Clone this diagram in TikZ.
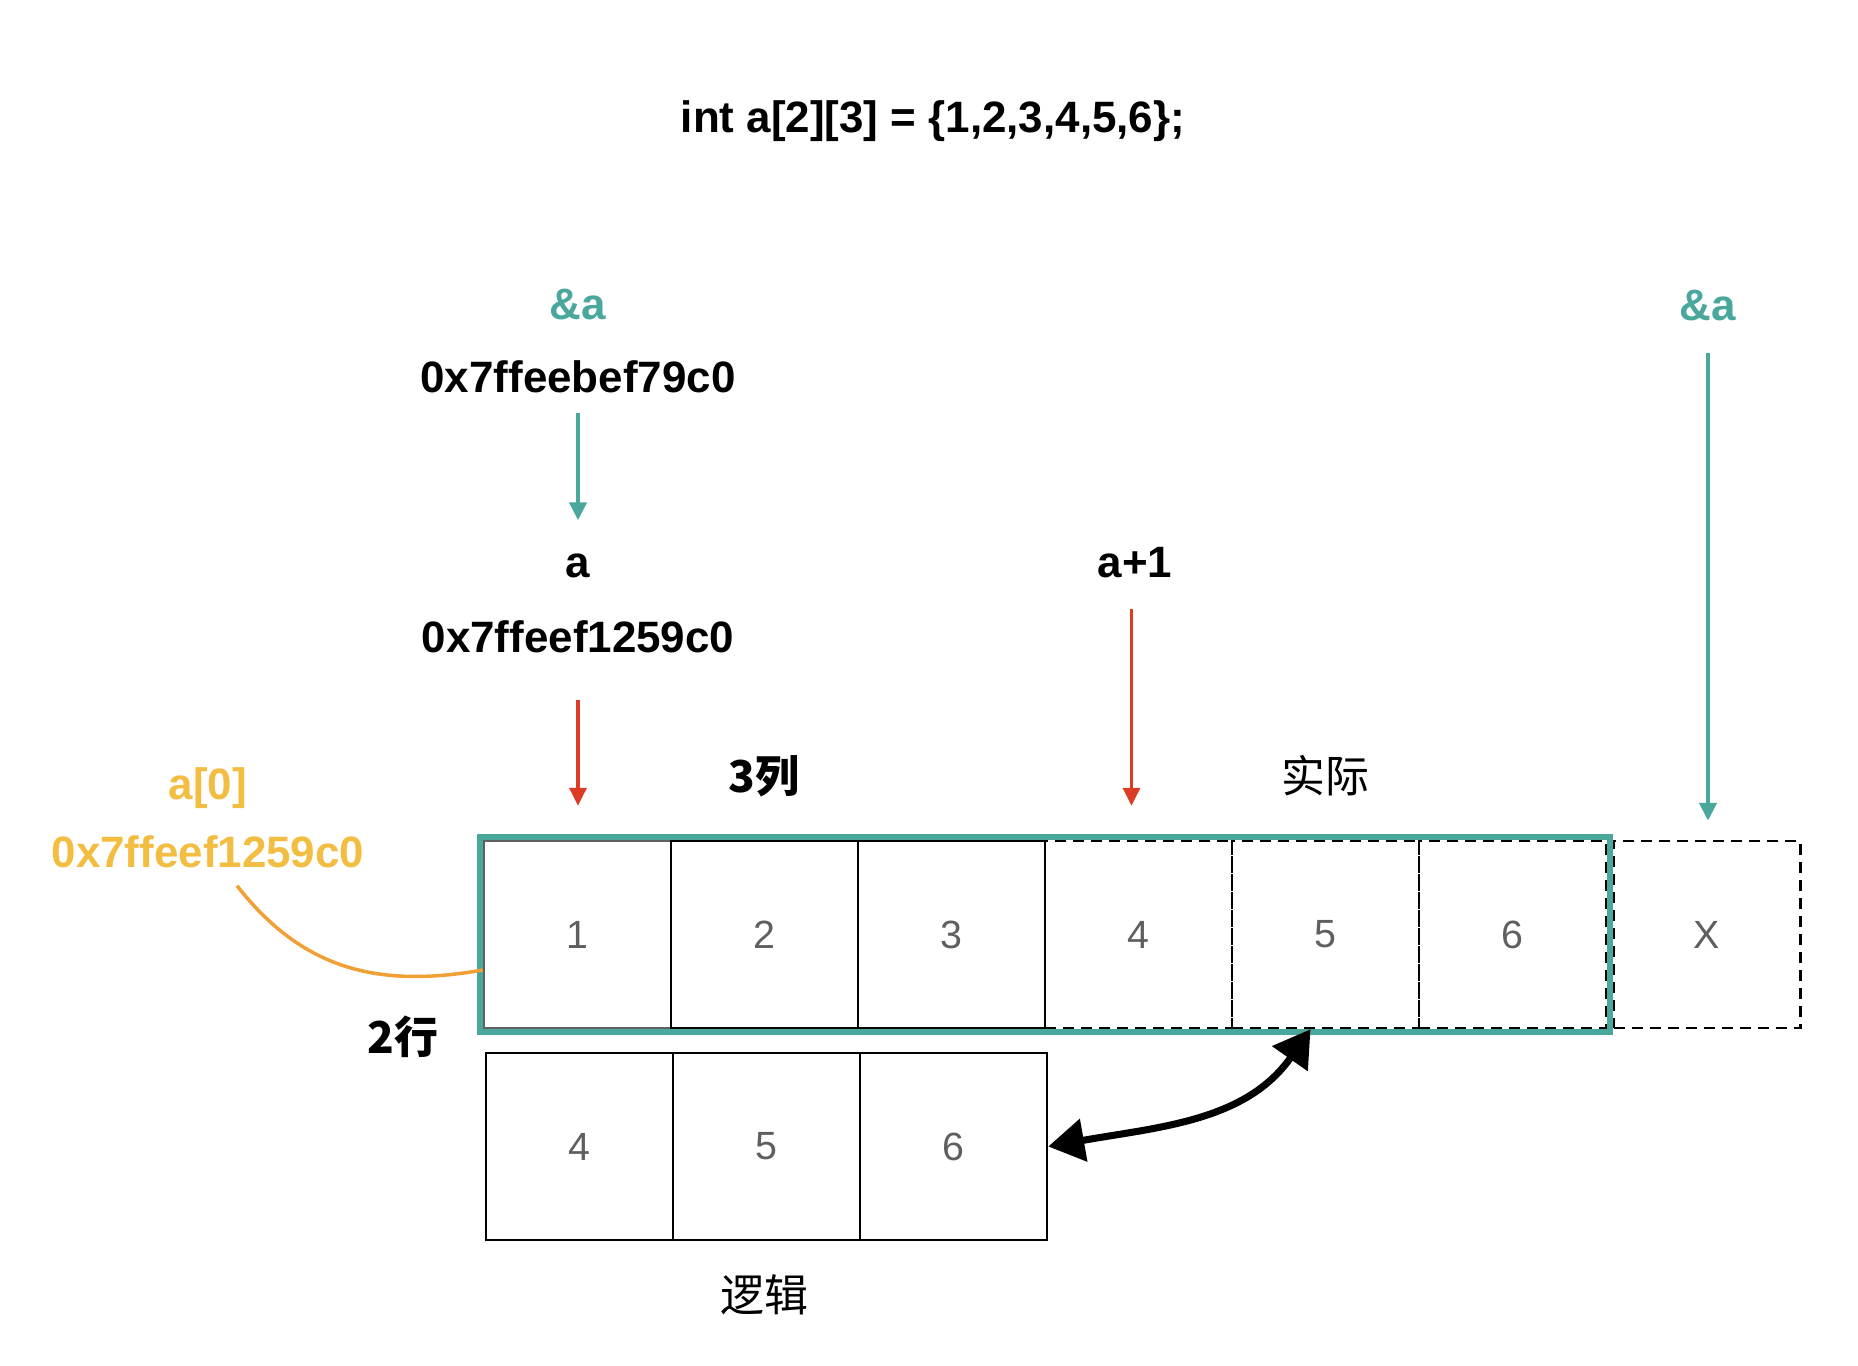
\documentclass[tikz,border=0pt]{standalone}
\usepackage{fontspec}
\setmainfont{Liberation Sans}
\newfontfamily\cjk{Noto Sans CJK SC}
\usetikzlibrary{arrows.meta}
\definecolor{ptrteal}{RGB}{74,167,155}
\definecolor{ptrred}{RGB}{220,59,38}
\definecolor{addryellow}{RGB}{242,189,65}
\definecolor{curveorange}{RGB}{240,160,53}
\definecolor{numgray}{RGB}{95,95,95}
\begin{document}
\begin{tikzpicture}
    \tikzstyle{every node}=[inner sep=0pt]
    \tikzstyle{lbl}=[font=\fontsize{12.5}{15}\selectfont\bfseries,text height=0.31cm,text depth=0cm]
    \tikzstyle{hanzi}=[font=\fontsize{12.5}{15}\selectfont\cjk]
    \tikzstyle{cell}=[draw,line width=0.7pt,minimum size=1.87cm,font=\fontsize{11.2}{13}\selectfont,text=numgray]
    \tikzstyle{ghost}=[cell,dash pattern=on 0.11cm off 0.07cm]
    \tikzstyle{tealptr}=[ptrteal,line width=1.2pt,-{Triangle[length=0.18cm,width=0.17cm]}]
    \tikzstyle{redptr}=[ptrred,line width=1pt,-{Triangle[length=0.18cm,width=0.17cm]}]
    \useasboundingbox (0,0) rectangle (18.58,-13.66);
    % labels
    \draw (9.33,-1.175) node[lbl] (decl) {int a[2][3] = \{1,2,3,4,5,6\};};
    \draw (5.78,-3.045) node[lbl,text=ptrteal] (amp1) {\&a};
    \draw (5.78,-3.77) node[lbl] (addr1) {0x7ffeebef79c0};
    \draw (5.78,-5.625) node[lbl] (a) {a};
    \draw (5.78,-6.375) node[lbl] (addr2) {0x7ffeef1259c0};
    \draw (11.35,-5.625) node[lbl] (aplus) {a+1};
    \draw (17.08,-3.05) node[lbl,text=ptrteal] (amp2) {\&a};
    \draw (2.08,-7.845) node[lbl,text=addryellow] (azero) {a[0]};
    \draw (2.08,-8.525) node[lbl,text=addryellow] (addr3) {0x7ffeef1259c0};
    \draw (7.64,-7.76) node[hanzi,font=\fontsize{12.5}{15}\selectfont\cjk\bfseries] (cols) {3列};
    \draw (13.25,-7.76) node[hanzi] (real) {实际};
    \draw (4.03,-10.37) node[hanzi,font=\fontsize{12.5}{15}\selectfont\cjk\bfseries] (rows) {2行};
    \draw (7.64,-12.95) node[hanzi] (logic) {逻辑};
    % actual memory
    \draw (5.775,-9.345) node[cell,draw=numgray] (c1) {1};
    \draw (7.645,-9.345) node[cell] (c2) {2};
    \draw (9.515,-9.345) node[cell] (c3) {3};
    \draw (11.385,-9.345) node[ghost] (c4) {4};
    \draw (13.255,-9.345) node[ghost] (c5) {5};
    \draw (15.125,-9.345) node[ghost] (c6) {6};
    \draw (17.07,-9.345) node[ghost] (cx) {X};
    \draw[ptrteal,line width=1.7pt] ([shift={(-0.03,0.03)}]c1.north west) rectangle ([shift={(0.03,-0.03)}]c6.south east);
    % logical second row
    \draw (5.795,-11.465) node[cell] (d4) {4};
    \draw (7.665,-11.465) node[cell] (d5) {5};
    \draw (9.535,-11.465) node[cell] (d6) {6};
    % pointers
    \draw[tealptr,shorten <=0.195cm,shorten >=0.26cm] (addr1.south) -- (a.north);
    \draw[redptr,shorten <=0.46cm,shorten >=0.34cm] (addr2.south) -- (addr2.south |- c1.north);
    \draw[redptr,shorten <=0.3cm,shorten >=0.34cm] ([xshift=-0.035cm]aplus.south) -- ([xshift=-0.035cm]aplus.south |- c4.north);
    \draw[tealptr,shorten <=0.315cm,shorten >=0.19cm] (amp2.south) -- (amp2.south |- cx.north);
    \draw[curveorange,line width=1pt] ([shift={(0.29,-0.17)}]addr3.south) to[out=-52,in=190,looseness=1.05] ([yshift=-0.355cm]c1.west);
    \draw[line width=2pt,{Triangle[length=0.36cm,width=0.42cm]}-{Triangle[length=0.36cm,width=0.42cm]}] (d6.east) to[out=10,in=235] ([xshift=-0.15cm]c5.south);
\end{tikzpicture}
\end{document}
